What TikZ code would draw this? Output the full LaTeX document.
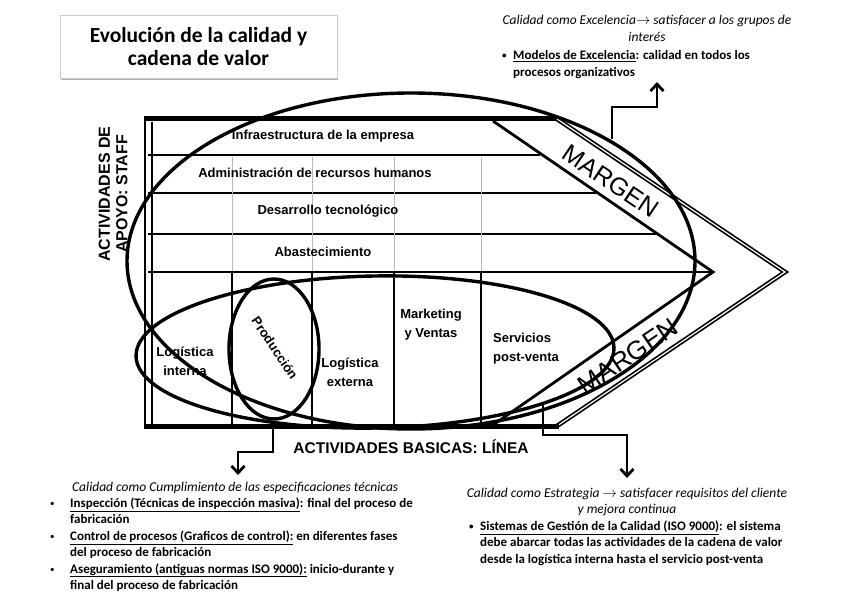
\documentclass[tikz,border=0pt]{standalone}
\usepackage{fontspec}
\setmainfont{Carlito}
\newfontfamily\arialfont{Liberation Sans}
\usetikzlibrary{arrows.meta,shadows}

\newcommand{\itemdot}[1]{\makebox[#1][l]{\raisebox{1pt}{\fontsize{9}{9}\selectfont\textbullet}}}

\tikzset{
  frameline/.style={line width=2.8pt},
  oval/.style={line width=3.4pt},
  cell/.style={font=\arialfont\bfseries\fontsize{13}{19}\selectfont, align=center, inner sep=0pt},
  margen/.style={font=\arialfont\fontsize{25}{25}\selectfont, inner sep=0pt},
  elbow/.style={line width=2.8pt, -{Straight Barb[length=7pt,width=13pt,line width=2.8pt]}},
  note/.style={font=\fontsize{13}{16.4}\selectfont, inner sep=0pt, align=left, anchor=north west},
  noteitem/.style={note, font=\bfseries\fontsize{13}{16.6}\selectfont},
  notehead/.style={font=\itshape\fontsize{13.5}{16.5}\selectfont, inner sep=0pt, align=center},
}

\begin{document}
\begin{tikzpicture}[x=1pt,y=-1pt]
    \useasboundingbox (0,0) rectangle (848,599);

    % Title
    \node[draw=gray!40, fill=white, drop shadow={shadow xshift=1pt, shadow yshift=-2pt, opacity=0.6},
          minimum width=277pt, minimum height=63pt, inner sep=0pt] (titlebox) at (198.5,46.5) {};
    \node[font=\bfseries\fontsize{21.5}{23}\selectfont, align=center] (title) at (titlebox)
        {Evolución de la calidad y\\cadena de valor};

    % Value chain frame
    \draw[frameline] (145,427) -- (145,118);
    \draw[line width=5pt] (143.6,119) -- (557,119);
    \draw[line width=1.7pt, double=white, double distance=1.2pt] (557,119) -- (785,272) -- (557,426);
    \draw[line width=5pt] (143.6,426) -- (559,426);
    \draw[frameline] (152,122) -- (152,425);
    \draw[frameline] (493,121) -- (713,272) -- (493,425);

    % Support rows and columns
    \foreach \y/\xe in {155/540, 193/596, 234/657, 272/713}
        \draw[frameline] (148,\y) -- (\xe,\y);
    \foreach \x in {232,312,394,481}
        \draw[gray!55, line width=0.7pt] (\x,157) -- (\x,271);
    \foreach \x in {232,312,394,481}
        \draw[frameline] (\x,272) -- (\x,425);

    % Cell labels
    \node[cell] (infra) at (323,136) {Infraestructura de la empresa};
    \node[cell] (rrhh) at (315,173) {Administración de recursos humanos};
    \node[cell] (tecno) at (328,211) {Desarrollo tecnológico};
    \node[cell] (abast) at (323,252) {Abastecimiento};
    \node[cell] (logint) at (185,361) {Logística\\interna};
    \node[cell, rotate=-56] (prod) at (275,348) {Producción};
    \node[cell] (logext) at (350,372) {Logística\\externa};
    \node[cell] (mkt) at (431,325) {Marketing\\y Ventas};
    \node[cell, align=left, anchor=west] (serv) at (493,349) {Servicios\\post-venta};

    \node[margen, rotate=-34] (margenA) at (611,181) {MARGEN};
    \node[margen, rotate=34, font=\arialfont\fontsize{26}{26}\selectfont] (margenB) at (628,356) {MARGEN};

    \node[font=\arialfont\bfseries\fontsize{16}{17.5}\selectfont, align=center, rotate=90, inner sep=0pt]
        (apoyo) at (113,194) {ACTIVIDADES DE\\APOYO: STAFF};
    \node[font=\arialfont\bfseries\fontsize{15.5}{18}\selectfont, inner sep=0pt]
        (basicas) at (411,447) {ACTIVIDADES BASICAS: LÍNEA};

    % Ellipses
    \draw[oval] (411,261) ellipse [x radius=284, y radius=168];
    \draw[oval, rotate around={1:(375,352)}] (375,352) ellipse [x radius=239, y radius=76];
    \draw[oval] (274,349) ellipse [x radius=45, y radius=70];

    % Notes
    \node[notehead] (excHead) at (647,28.5)
        {Calidad como Excelencia$\rightarrow$ satisfacer a los grupos de\\interés};
    \node[noteitem] (excItem) at (502,50.5)
        {\itemdot{11pt}\underline{Modelos de Excelencia}: calidad en todos los\\
         \hspace*{11pt}procesos organizativos};

    \node[note] (cumplimiento) at (50,481.5)
        {\hspace*{22pt}{\itshape\fontsize{13.5}{16.4}\selectfont Calidad como Cumplimiento de las especificaciones técnicas}\\
         \itemdot{20pt}\textbf{\underline{Inspección (Técnicas de inspección masiva)}: final del proceso de}\\
         \hspace*{20pt}\textbf{fabricación}\\
         \itemdot{20pt}\textbf{\underline{Control de procesos (Graficos de control):} en diferentes fases}\\
         \hspace*{20pt}\textbf{del proceso de fabricación}\\
         \itemdot{20pt}\textbf{\underline{Aseguramiento (antiguas normas ISO 9000):} inicio-durante y}\\
         \hspace*{20pt}\textbf{final del proceso de fabricación}};

    \node[notehead] (estHead) at (627,502)
        {Calidad como Estrategia $\rightarrow$ satisfacer requisitos del cliente\\y mejora continua};
    \node[noteitem] (estItem) at (469,520.5)
        {\itemdot{11pt}\underline{Sistemas de Gestión de la Calidad (ISO 9000)}: el sistema\\
         \hspace*{11pt}debe abarcar todas las actividades de la cadena de valor\\
         \hspace*{11pt}desde la logística interna hasta el servicio post-venta};

    % Elbow arrows
    \coordinate (fromApoyo) at (612,139);
    \coordinate (toExc) at (657,82);
    \draw[elbow] (fromApoyo) -- (612,107) -- (657,107) -- (toExc);
    \coordinate (fromProd) at (273,428);
    \coordinate (toCumpl) at (238,475);
    \draw[elbow] (fromProd) -- (273,452) -- (238,452) -- (toCumpl);
    \coordinate (fromBasic) at (543,404);
    \coordinate (toEst) at (627,478);
    \draw[elbow] (fromBasic) -- (543,435) -- (627,435) -- (toEst);
\end{tikzpicture}
\end{document}
